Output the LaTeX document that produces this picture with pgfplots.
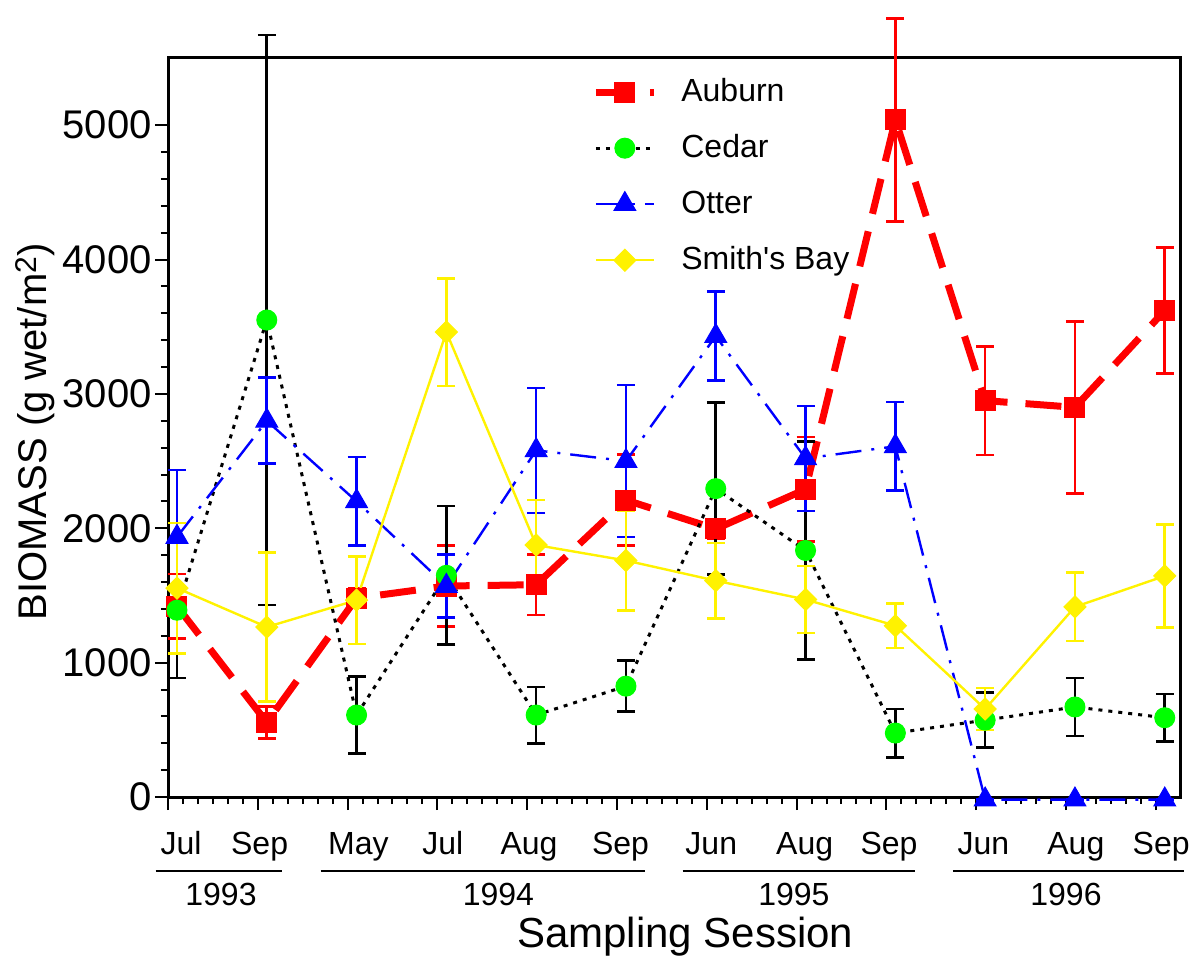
\documentclass[border=0pt]{standalone}
\usepackage{fontspec}
\setmainfont{Liberation Sans}
\usepackage{pgfplots}
\pgfplotsset{compat=1.18}

\begin{document}
\begin{tikzpicture}
\useasboundingbox (-84pt,-80pt) rectangle (512pt,398.5pt);
\begin{axis}[
  at={(0,0)}, anchor=south west,
  scale only axis, width=506pt, height=369.5pt,
  xmin=0, xmax=11.27, ymin=0, ymax=5500,
  xtick={0,...,11}, xticklabels={},
  minor x tick num=5,
  ytick={0,1000,...,5000},
  minor y tick num=4,
  tick align=outside, tick pos=left,
  major tick length=6.5pt, minor tick length=3.5pt,
  tick style={black, line width=1pt},
  axis line style={line width=1.5pt},
  clip=false,
  /pgf/number format/assume math mode=true,
  /pgf/number format/1000 sep={},
  yticklabel style={font=\fontsize{20}{24}\selectfont, inner sep=1.5pt},
  ylabel={BIOMASS (g wet/m\raisebox{0.25em}{\fontsize{15}{15}\selectfont 2})},
  ylabel style={font=\fontsize{20}{24}\selectfont, at={(axis description cs:-0.131,0.494)}, anchor=center},
  xlabel={Sampling Session},
  xlabel style={font=\fontsize{21}{25}\selectfont, inner sep=0pt, at={(axis description cs:0.511,-0.203)}, anchor=base},
  legend style={at={(axis description cs:0.413,0.98)}, anchor=north west, draw=none, fill=none,
    font=\fontsize{16}{19}\selectfont, row sep=13pt, column sep=12pt,
    nodes={inner sep=0pt, text height=12pt, text depth=3pt}},
  legend cell align=left,
  legend image code/.code={\draw[mark repeat=2, mark phase=2] plot coordinates {(0pt,0pt) (14.5pt,0pt) (29pt,0pt)};},
]

% Auburn
\addplot[red, line width=3.5pt, dash pattern=on 18pt off 9pt,
  mark=square*, mark size=5pt, mark options={solid, line width=0.5pt},
  error bars/.cd, y dir=both, y explicit,
  error bar style={solid, line width=1.3pt, red},
  error mark options={rotate=90, red, solid, line width=1.3pt, mark size=4.5pt}]
coordinates {
  (0.1,1420) +- (0,240)
  (1.1,555) +- (0,120)
  (2.1,1480) +- (0,70)
  (3.1,1570) +- (0,300)
  (4.1,1580) +- (0,225)
  (5.1,2210) +- (0,340)
  (6.1,1995) +- (0,70)
  (7.1,2290) +- (0,390)
  (8.1,5040) +- (0,755)
  (9.1,2950) +- (0,405)
  (10.1,2900) +- (0,640)
  (11.1,3620) +- (0,470)
};

% Cedar
\addplot[black, line width=1.5pt, dash pattern=on 2pt off 3pt,
  mark=*, mark size=5pt, mark options={solid, fill=green, draw=green, line width=0.5pt},
  error bars/.cd, y dir=both, y explicit,
  error bar style={solid, line width=1.3pt, black},
  error mark options={rotate=90, black, solid, line width=1.3pt, mark size=4.5pt}]
coordinates {
  (0.1,1390) +- (0,505)
  (1.1,3550) +- (0,2120)
  (2.1,610) +- (0,285)
  (3.1,1650) +- (0,515)
  (4.1,610) +- (0,210)
  (5.1,825) +- (0,190)
  (6.1,2295) +- (0,640)
  (7.1,1835) +- (0,810)
  (8.1,476) +- (0,180)
  (9.1,572) +- (0,205)
  (10.1,670) +- (0,215)
  (11.1,590) +- (0,178)
};

% Otter
\addplot[blue, line width=1.2pt, dash pattern=on 13pt off 5pt on 1.5pt off 5pt,
  mark=triangle*, mark size=6.3pt, mark options={solid, line width=0.5pt},
  error bars/.cd, y dir=both, y explicit,
  error bar style={solid, line width=1.3pt, blue},
  error mark options={rotate=90, blue, solid, line width=1.3pt, mark size=4.5pt}]
coordinates {
  (0.1,1935) +- (0,500)
  (1.1,2800) +- (0,320)
  (2.1,2200) +- (0,330)
  (3.1,1570) +- (0,235)
  (4.1,2580) +- (0,465)
  (5.1,2500) +- (0,565)
  (6.1,3430) +- (0,330)
  (7.1,2520) +- (0,390)
  (8.1,2610) +- (0,330)
  (9.1,-20) +- (0,0)
  (10.1,-20) +- (0,0)
  (11.1,-20) +- (0,0)
};

% Smith's Bay
\addplot[yellow, line width=1.2pt,
  mark=square*, mark size=3.9pt, mark options={solid, rotate=45, line width=0.5pt},
  error bars/.cd, y dir=both, y explicit,
  error bar style={solid, line width=1.3pt, yellow},
  error mark options={rotate=90, yellow, solid, line width=1.3pt, mark size=4.5pt}]
coordinates {
  (0.1,1555) +- (0,485)
  (1.1,1265) +- (0,555)
  (2.1,1465) +- (0,325)
  (3.1,3460) +- (0,400)
  (4.1,1875) +- (0,335)
  (5.1,1760) +- (0,372)
  (6.1,1610) +- (0,280)
  (7.1,1470) +- (0,250)
  (8.1,1275) +- (0,165)
  (9.1,655) +- (0,155)
  (10.1,1415) +- (0,255)
  (11.1,1645) +- (0,385)
};

\legend{Auburn, Cedar, Otter, Smith\textquotesingle s Bay}

% month labels
\begin{scope}[every node/.style={anchor=base, inner sep=0pt, font=\fontsize{16}{19}\selectfont}]
\node at ([yshift=-28.75pt]axis cs:0.145,0) {Jul};
\node at ([yshift=-28.75pt]axis cs:1.02,0) {Sep};
\node at ([yshift=-28.75pt]axis cs:2.12,0) {May};
\node at ([yshift=-28.75pt]axis cs:3.06,0) {Jul};
\node at ([yshift=-28.75pt]axis cs:4.02,0) {Aug};
\node at ([yshift=-28.75pt]axis cs:5.04,0) {Sep};
\node at ([yshift=-28.75pt]axis cs:6.05,0) {Jun};
\node at ([yshift=-28.75pt]axis cs:7.09,0) {Aug};
\node at ([yshift=-28.75pt]axis cs:8.03,0) {Sep};
\node at ([yshift=-28.75pt]axis cs:9.08,0) {Jun};
\node at ([yshift=-28.75pt]axis cs:10.11,0) {Aug};
\node at ([yshift=-28.75pt]axis cs:11.06,0) {Sep};
% years
\node at ([yshift=-54.25pt]axis cs:0.59,0) {1993};
\node at ([yshift=-54.25pt]axis cs:3.68,0) {1994};
\node at ([yshift=-54.25pt]axis cs:6.97,0) {1995};
\node at ([yshift=-54.25pt]axis cs:10.0,0) {1996};
\end{scope}
\draw[line width=1pt] ([yshift=-37pt]axis cs:-0.139,0) -- ([yshift=-37pt]axis cs:1.275,0);
\draw[line width=1pt] ([yshift=-37pt]axis cs:1.70,0) -- ([yshift=-37pt]axis cs:5.31,0);
\draw[line width=1pt] ([yshift=-37pt]axis cs:5.73,0) -- ([yshift=-37pt]axis cs:8.32,0);
\draw[line width=1pt] ([yshift=-37pt]axis cs:8.74,0) -- ([yshift=-37pt]axis cs:11.31,0);
\end{axis}
\end{tikzpicture}
\end{document}
